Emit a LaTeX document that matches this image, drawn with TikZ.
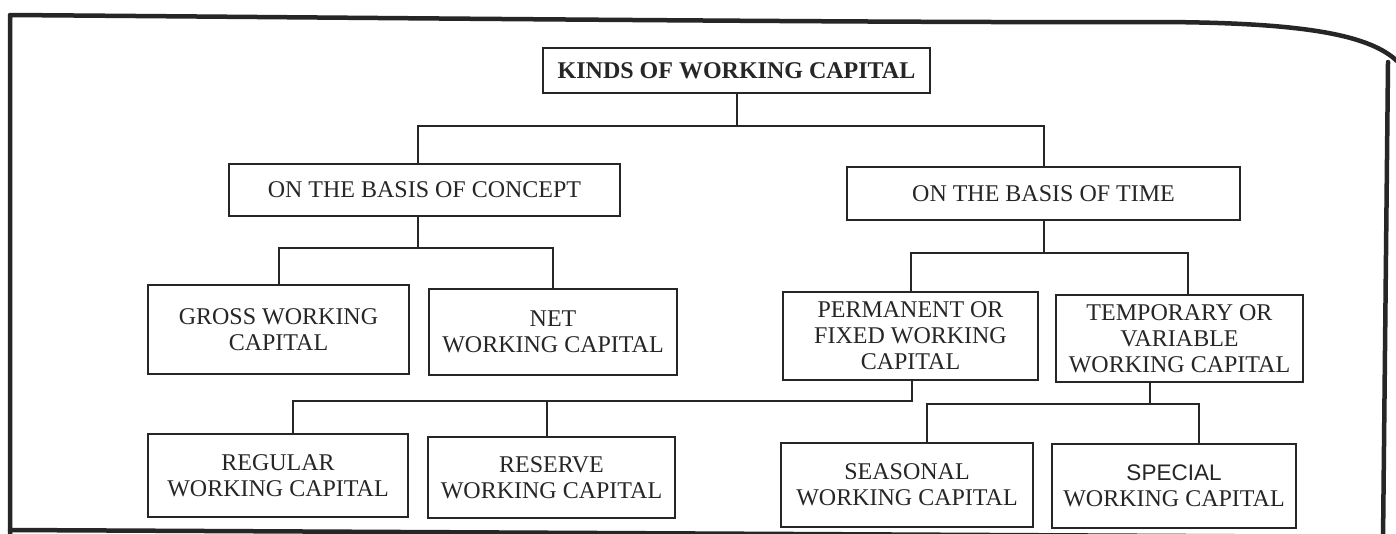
\documentclass[tikz,border=0pt]{standalone}
\usepackage{fontspec}
\setmainfont{Liberation Serif}
\newfontfamily\sansfam{Liberation Sans}
\definecolor{ink}{HTML}{262626}
\begin{document}
\begin{tikzpicture}[x=1pt,y=-1pt,
  box/.style={draw=ink, line width=2.4pt, fill=white, align=center,
    inner sep=0pt, text=ink, font=\fontsize{24}{26}\selectfont},
  conn/.style={draw=ink, line width=2pt},
  frame/.style={draw=ink, line width=4.5pt, line join=round, line cap=round}]
\useasboundingbox[fill=white] (0,0) rectangle (1396,533);

% outer border of the page panel, curling at the top right
\draw[frame] (10,540) -- (10,15) .. controls (400,18) and (900,23) .. (1150,22)
  .. controls (1300,22) and (1370,34) .. (1398,62);
\draw[frame] (1388,62) -- (1383,540);
\draw[frame] (10,530) -- (1384,537);

% boxes
\node[box, minimum width=387, minimum height=45] (title) at (736.5,70.5)
  {\bfseries KINDS OF WORKING CAPITAL};
\node[box, minimum width=391, minimum height=52] (concept) at (424.5,190)
  {ON THE BASIS OF CONCEPT};
\node[box, minimum width=393, minimum height=53] (time) at (1043.5,193.5)
  {ON THE BASIS OF TIME};
\node[box, minimum width=261, minimum height=89] (gross) at (278.5,329.5)
  {GROSS WORKING\\CAPITAL};
\node[box, minimum width=248, minimum height=86] (net) at (553,332)
  {NET\\WORKING CAPITAL};
\node[box, minimum width=255, minimum height=88] (perm) at (910.5,336)
  {PERMANENT OR\\FIXED WORKING\\CAPITAL};
\node[box, minimum width=247, minimum height=87] (temp) at (1179.5,338.5)
  {TEMPORARY OR\\VARIABLE\\WORKING CAPITAL};
\node[box, minimum width=260, minimum height=83] (regular) at (278,475.5)
  {REGULAR\\WORKING CAPITAL};
\node[box, minimum width=247, minimum height=81] (reserve) at (551.5,477.5)
  {RESERVE\\WORKING CAPITAL};
\node[box, minimum width=252, minimum height=84] (seasonal) at (907,485)
  {SEASONAL\\WORKING CAPITAL};
\node[box, minimum width=244, minimum height=84] (special) at (1174,486)
  {\sansfam\fontsize{22.5}{26}\selectfont SPECIAL\\WORKING CAPITAL};

% connectors
\draw[conn] (title.south) -- (title.south |- 0,126);
\draw[conn] ([xshift=-6.5]concept.north) -- ([xshift=-6.5]concept.north |- 0,126)
  -- (time.north |- 0,126) -- (time.north);

\draw[conn] ([xshift=-6.5]concept.south) -- ([xshift=-6.5]concept.south |- 0,248);
\draw[conn] (gross.north) -- (gross.north |- 0,248) -- (net.north |- 0,248) -- (net.north);

\draw[conn] (time.south) -- (time.south |- 0,253);
\draw[conn] (perm.north) -- (perm.north |- 0,253)
  -- ([xshift=8.5]temp.north |- 0,253) -- ([xshift=8.5]temp.north);

\draw[conn] ([xshift=1.5]perm.south) -- ([xshift=1.5]perm.south |- 0,401)
  -- ([xshift=15]regular.north |- 0,401) -- ([xshift=15]regular.north);
\draw[conn] ([xshift=-4.5]reserve.north) -- ([xshift=-4.5]reserve.north |- 0,401);

\draw[conn] ([xshift=-29.5]temp.south) -- ([xshift=-29.5]temp.south |- 0,404);
\draw[conn] ([xshift=20]seasonal.north) -- ([xshift=20]seasonal.north |- 0,404)
  -- ([xshift=25]special.north |- 0,404) -- ([xshift=25]special.north);
\end{tikzpicture}
\end{document}
